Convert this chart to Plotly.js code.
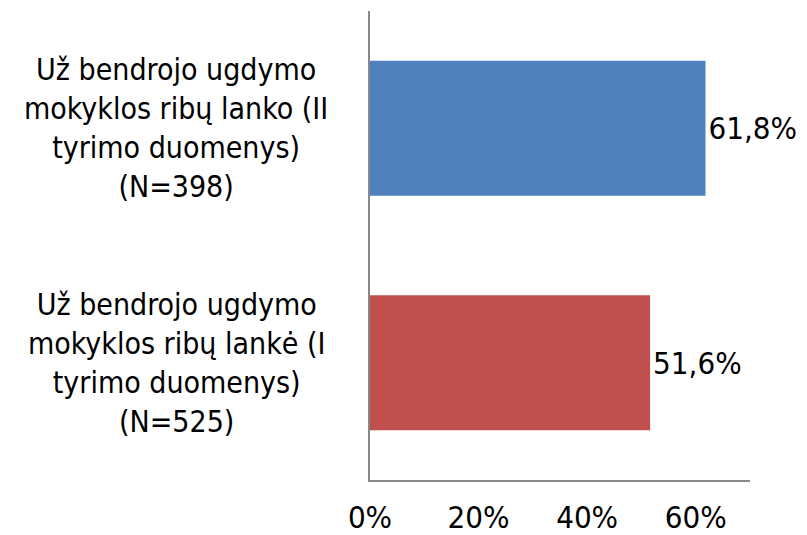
<!DOCTYPE html>
<html>
<head>
<meta charset="utf-8">
<script src="https://cdn.plot.ly/plotly-3.0.1.min.js"></script>
<style>
  html, body { margin: 0; padding: 0; background: #ffffff; }
  #chart { width: 807px; height: 535px; }
</style>
</head>
<body>
<div id="chart"></div>
<script>
// Data (bottom to top, as Plotly draws horizontal categories)
const categories = [
  "Už bendrojo ugdymo<br>mokyklos ribų lankė (I<br>tyrimo duomenys)<br>(N=525)",
  "Už bendrojo ugdymo<br>mokyklos ribų lanko (II<br>tyrimo duomenys)<br>(N=398)"
];
const values = [51.6, 61.8];
const barColors = ["#C0504D", "#4F81BD"];
const tickValues = [0, 20, 40, 60];
const tickLabels = ["0%", "20%", "40%", "60%"];

const fontFamily = "DejaVu Sans Condensed, DejaVu Sans, sans-serif";
const labelText = values.map(v => v.toFixed(1).replace(".", ",") + "%");

const trace = {
  type: "bar",
  orientation: "h",
  x: values,
  y: categories,
  marker: { color: barColors },
  text: labelText,
  textposition: "outside",
  cliponaxis: false,
  textfont: { family: fontFamily, size: 31, color: "#000000" },
  hoverinfo: "none"
};

const annotations = categories.map(c => ({
  xref: "paper",
  yref: "y",
  x: -0.51,
  y: c,
  text: c,
  showarrow: false,
  xanchor: "center",
  yanchor: "middle",
  align: "center",
  font: { family: fontFamily, size: 30, color: "#000000" }
}));

const layout = {
  width: 807,
  height: 535,
  margin: { l: 370, r: 57, t: 11, b: 55 },
  paper_bgcolor: "#ffffff",
  plot_bgcolor: "#ffffff",
  showlegend: false,
  bargap: 0.424,
  xaxis: {
    range: [0, 70],
    tickvals: tickValues,
    ticktext: tickLabels,
    showgrid: false,
    zeroline: false,
    showline: true,
    linecolor: "#888888",
    linewidth: 1.5,
    ticks: "",
    ticklabelstandoff: 9,
    tickfont: { family: fontFamily, size: 31, color: "#000000" },
    fixedrange: true
  },
  yaxis: {
    type: "category",
    range: [-0.5, 1.5],
    showticklabels: false,
    showgrid: false,
    zeroline: false,
    showline: true,
    linecolor: "#888888",
    linewidth: 2,
    ticks: "",
    fixedrange: true
  },
  annotations: annotations
};

Plotly.newPlot("chart", [trace], layout, { displayModeBar: false, staticPlot: true });
</script>
</body>
</html>
